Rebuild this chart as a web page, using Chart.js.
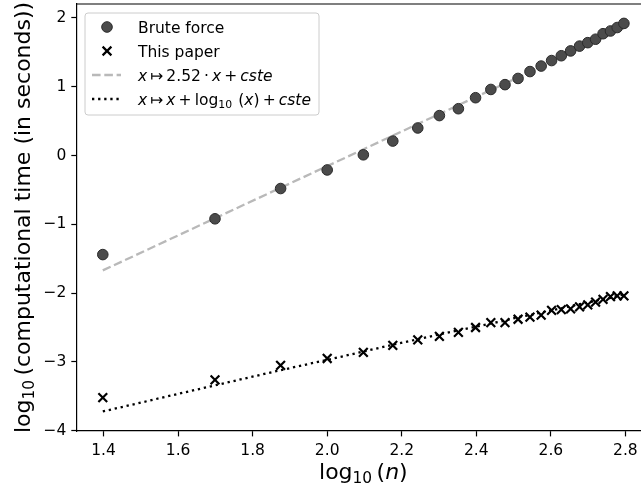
<!DOCTYPE html>
<html>
<head>
<meta charset="utf-8">
<script src="https://cdn.jsdelivr.net/npm/chart.js@4/dist/chart.umd.min.js"></script>
<style>
  html, body { margin: 0; padding: 0; background: #fff; overflow: hidden; width: 641px; height: 492px; }
  canvas { display: block; }
</style>
</head>
<body>
<canvas id="c" width="660" height="492"></canvas>
<script>
// ---- data ----
const logN = [1.398, 1.699, 1.875, 2.000, 2.097, 2.176, 2.243, 2.301, 2.352, 2.398, 2.439, 2.477, 2.512,
              2.544, 2.574, 2.602, 2.628, 2.653, 2.677, 2.699, 2.720, 2.740, 2.760, 2.778, 2.796];
const bruteForce = [-1.44, -0.92, -0.48, -0.21, 0.01, 0.21, 0.40, 0.58, 0.68, 0.84, 0.96, 1.03, 1.12,
                    1.22, 1.30, 1.38, 1.45, 1.52, 1.59, 1.64, 1.69, 1.77, 1.81, 1.86, 1.92];
const thisPaper = [-3.52, -3.26, -3.05, -2.95, -2.86, -2.76, -2.68, -2.63, -2.57, -2.50, -2.43, -2.43, -2.38,
                   -2.35, -2.32, -2.25, -2.24, -2.23, -2.20, -2.17, -2.13, -2.09, -2.05, -2.04, -2.04];
const dashedFitX = [1.398, 2.796];
const dashedFitY = [-1.67, 1.85];
const dottedFit = [-3.72, -3.34, -3.12, -2.97, -2.85, -2.75, -2.67, -2.60, -2.54, -2.49, -2.44, -2.40, -2.35,
                   -2.32, -2.28, -2.25, -2.22, -2.19, -2.16, -2.14, -2.11, -2.09, -2.07, -2.04, -2.02];
const xTicks = [1.4, 1.6, 1.8, 2.0, 2.2, 2.4, 2.6, 2.8];
const yTicks = [-4, -3, -2, -1, 0, 1, 2];
const seriesLabels = ['Brute force', 'This paper'];

const FONT = "'DejaVu Sans', sans-serif";
const TICK_PX = 15.5;
const TITLE_PX = 22;
const LEG_PX = 15.5;

const pts = (xs, ys) => xs.map((x, i) => ({x: x, y: ys[i]}));

const BF_FILL = '#4b4b4b', BF_EDGE = '#2b2b2b';
const DASH_COLOR = '#b9b9b9';

// rich text helper: parts = [{t, it, sub}]
function richWidth(ctx, parts, size) {
  let w = 0;
  for (const p of parts) {
    const s = p.sub ? size * 0.7 : size;
    ctx.font = (p.it ? 'oblique ' : '') + s + 'px ' + FONT;
    w += ctx.measureText(p.t).width;
  }
  return w;
}
function drawRich(ctx, parts, x, y, size) {
  let cx = x;
  for (const p of parts) {
    const s = p.sub ? size * 0.7 : size;
    ctx.font = (p.it ? 'oblique ' : '') + s + 'px ' + FONT;
    ctx.fillText(p.t, cx, p.sub ? y + size * 0.2 : y);
    cx += ctx.measureText(p.t).width;
  }
}

const xTitle = [{t: 'log'}, {t: '10', sub: 1}, {t: '\u2009('}, {t: 'n', it: 1}, {t: ')'}];
const yTitle = [{t: 'log'}, {t: '10', sub: 1}, {t: '\u2009(computational time (in seconds))'}];
const legDashed = [{t: 'x', it: 1}, {t: '\u2009\u21A6\u20092.52\u2009\u00B7\u2009'}, {t: 'x', it: 1}, {t: '\u2009+\u2009'}, {t: 'cste', it: 1}];
const legDotted = [{t: 'x', it: 1}, {t: '\u2009\u21A6\u2009'}, {t: 'x', it: 1}, {t: '\u2009+\u2009log'}, {t: '10', sub: 1}, {t: '\u2009\u2009('}, {t: 'x', it: 1}, {t: ')\u2009+\u2009'}, {t: 'cste', it: 1}];

const decor = {
  id: 'decor',
  afterDraw(chart) {
    const ctx = chart.ctx, a = chart.chartArea;
    ctx.save();
    // top spine
    ctx.strokeStyle = '#000'; ctx.lineWidth = 1.2;
    ctx.beginPath(); ctx.moveTo(a.left, a.top); ctx.lineTo(a.right, a.top); ctx.stroke();
    ctx.fillStyle = '#000';
    ctx.textBaseline = 'alphabetic'; ctx.textAlign = 'left';
    // x title
    const xw = richWidth(ctx, xTitle, TITLE_PX);
    drawRich(ctx, xTitle, (a.left + a.right) / 2 - xw / 2, 479, TITLE_PX);
    // y title
    const yw = richWidth(ctx, yTitle, TITLE_PX);
    ctx.save();
    ctx.translate(30, (a.top + a.bottom) / 2);
    ctx.rotate(-Math.PI / 2);
    drawRich(ctx, yTitle, -yw / 2, 0, TITLE_PX);
    ctx.restore();

    // legend box
    const bx = 85, by = 13, bw = 234, bh = 102, r = 3;
    ctx.beginPath();
    ctx.moveTo(bx + r, by); ctx.lineTo(bx + bw - r, by); ctx.arcTo(bx + bw, by, bx + bw, by + r, r);
    ctx.lineTo(bx + bw, by + bh - r); ctx.arcTo(bx + bw, by + bh, bx + bw - r, by + bh, r);
    ctx.lineTo(bx + r, by + bh); ctx.arcTo(bx, by + bh, bx, by + bh - r, r);
    ctx.lineTo(bx, by + r); ctx.arcTo(bx, by, bx + r, by, r); ctx.closePath();
    ctx.fillStyle = 'rgba(255,255,255,0.8)'; ctx.fill();
    ctx.strokeStyle = '#cccccc'; ctx.lineWidth = 1; ctx.stroke();

    const rows = [27, 51, 75, 99];
    const mx = 107, tx = 138;
    // marker 1: circle
    ctx.beginPath(); ctx.arc(mx, rows[0], 5.3, 0, Math.PI * 2);
    ctx.fillStyle = BF_FILL; ctx.fill(); ctx.strokeStyle = BF_EDGE; ctx.lineWidth = 1; ctx.stroke();
    // marker 2: x
    ctx.strokeStyle = '#000'; ctx.lineWidth = 2.2;
    const d = 4.4;
    ctx.beginPath();
    ctx.moveTo(mx - d, rows[1] - d); ctx.lineTo(mx + d, rows[1] + d);
    ctx.moveTo(mx + d, rows[1] - d); ctx.lineTo(mx - d, rows[1] + d);
    ctx.stroke();
    // dashed
    ctx.lineWidth = 2.3; ctx.strokeStyle = DASH_COLOR; ctx.setLineDash([8.6, 3.7]);
    ctx.beginPath(); ctx.moveTo(92, rows[2]); ctx.lineTo(121, rows[2]); ctx.stroke();
    // dotted
    ctx.strokeStyle = '#000'; ctx.setLineDash([2.3, 3.8]);
    ctx.beginPath(); ctx.moveTo(92, rows[3]); ctx.lineTo(121, rows[3]); ctx.stroke();
    ctx.setLineDash([]);

    ctx.fillStyle = '#000';
    ctx.font = LEG_PX + 'px ' + FONT;
    ctx.fillText(seriesLabels[0], tx, rows[0] + 5.5);
    ctx.fillText(seriesLabels[1], tx, rows[1] + 5.5);
    drawRich(ctx, legDashed, tx, rows[2] + 5.5, LEG_PX);
    drawRich(ctx, legDotted, tx, rows[3] + 5.5, LEG_PX);
    ctx.restore();
  }
};

const axisCommon = {
  type: 'linear',
  grid: { drawOnChartArea: false, drawTicks: true, tickLength: 5.4, tickColor: '#000', tickWidth: 1.2 },
  border: { display: true, color: '#000', width: 1.2 },
};

new Chart(document.getElementById('c'), {
  type: 'scatter',
  data: {
    datasets: [
      { label: seriesLabels[0], data: pts(logN, bruteForce), showLine: false,
        pointStyle: 'circle', pointRadius: 5.3, backgroundColor: BF_FILL, borderColor: BF_EDGE,
        pointBorderWidth: 1, order: 0 },
      { label: seriesLabels[1], data: pts(logN, thisPaper), showLine: false,
        pointStyle: 'crossRot', pointRadius: 6.2, borderColor: '#000', backgroundColor: '#000',
        pointBorderWidth: 2.2, order: 0 },
      { label: 'dashed fit', data: pts(dashedFitX, dashedFitY), showLine: true, pointRadius: 0,
        borderColor: DASH_COLOR, borderWidth: 2.3, borderDash: [8.6, 3.7], fill: false, order: 2 },
      { label: 'dotted fit', data: pts(logN, dottedFit), showLine: true, pointRadius: 0,
        borderColor: '#000', borderWidth: 2.3, borderDash: [2.3, 3.8], fill: false, tension: 0, order: 2 }
    ]
  },
  options: {
    responsive: false,
    animation: false,
    devicePixelRatio: 1,
    layout: { autoPadding: false, padding: { left: 0, top: 4, right: 10, bottom: 0 } },
    plugins: { legend: { display: false }, tooltip: { enabled: false } },
    scales: {
      x: Object.assign({}, axisCommon, {
        min: 1.328, max: 2.866,
        afterBuildTicks: s => { s.ticks = xTicks.map(v => ({value: v})); },
        afterFit: s => { s.height = 61; s.paddingLeft = 0; s.paddingRight = 0; },
        ticks: { autoSkip: false, maxRotation: 0, color: '#000', padding: 5,
                 font: { family: FONT, size: TICK_PX },
                 callback: v => v.toFixed(1) }
      }),
      y: Object.assign({}, axisCommon, {
        min: -4.004, max: 2.202,
        afterBuildTicks: s => { s.ticks = yTicks.map(v => ({value: v})); },
        afterFit: s => { s.width = 76.7; s.paddingTop = 0; s.paddingBottom = 0; },
        ticks: { autoSkip: false, color: '#000', padding: 5,
                 font: { family: FONT, size: TICK_PX },
                 callback: v => String(v).replace('-', '\u2212') }
      })
    }
  },
  plugins: [decor]
});
</script>
</body>
</html>
